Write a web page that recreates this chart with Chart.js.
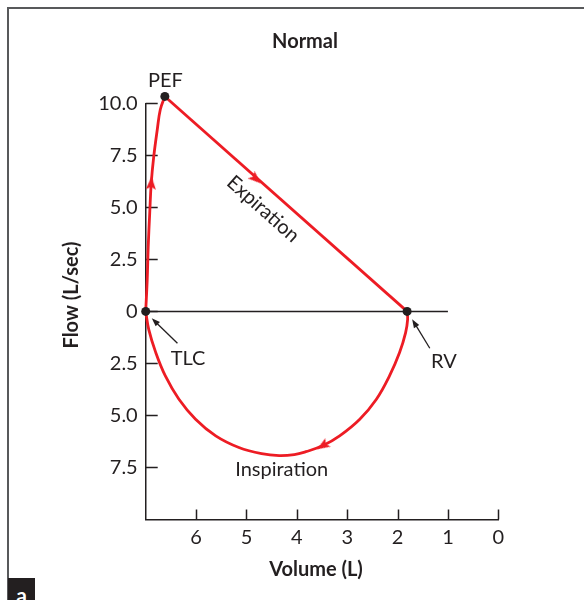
<!DOCTYPE html>
<html>
<head>
<meta charset="utf-8">
<script src="https://cdn.jsdelivr.net/npm/chart.js@4/dist/chart.umd.min.js"></script>
<style>
  html, body { margin: 0; padding: 0; background: #fff; }
  #wrap { position: relative; width: 584px; height: 600px; overflow: hidden; }
  #frame { position: absolute; left: 7px; top: 7px; width: 640px; height: 640px;
           border-top: 2px solid #58595b; border-left: 2px solid #58595b; }
  #tag { position: absolute; left: 8px; top: 578px; width: 27px; height: 30px;
         background: #231f20; color: #fff; font: bold 21px Lato, sans-serif;
         text-align: center; line-height: 34px; }
  #chartBox { position: absolute; left: 0; top: 0; width: 584px; height: 600px; }
</style>
</head>
<body>
<div id="wrap">
  <div id="frame"></div>
  <div id="chartBox"><canvas id="loop"></canvas></div>
  <div id="tag">a</div>
</div>
<script>
const RED = '#ed1c24';
const INK = '#231f20';
const FONT = 'Lato, "Open Sans", sans-serif';

// axis ticks
const volTicks = [6, 5, 4, 3, 2, 1, 0];
const flowTicks = [10, 7.5, 5, 2.5, 0, -2.5, -5, -7.5];

// rising limb TLC -> PEF
const riseVol = [7.0, 6.97, 6.95, 6.92, 6.89, 6.84, 6.77, 6.71, 6.62];
const riseFlow = [0, 1.52, 3.13, 4.73, 6.17, 7.45, 8.74, 9.7, 10.33];

// expiration PEF -> RV
const expVol = [6.62, 1.81];
const expFlow = [10.33, 0];

// inspiration RV -> TLC (drawn below zero)
const inspVol = [1.81, 1.80, 1.84, 1.96, 2.16, 2.42, 2.75, 3.15, 3.49, 3.82, 4.05, 4.35, 4.70, 5.15, 5.61, 6.01, 6.34, 6.61, 6.80, 6.94, 7.0];
const inspFlow = [0, -0.38, -1.02, -1.98, -3.10, -4.22, -5.18, -5.98, -6.46, -6.74, -6.88, -6.93, -6.84, -6.54, -5.98, -5.18, -4.22, -3.10, -1.98, -0.86, 0];

// zero line
const zeroVol = [7, 1];
const zeroFlow = [0, 0];

// marked points TLC, PEF, RV
const dotVol = [7.0, 6.62, 1.81];
const dotFlow = [0, 10.33, 0];

// direction arrows on the loop
const arrowVol = [6.89, 4.81, 3.49];
const arrowFlow = [6.17, 6.36, -6.46];
const arrowRot = [3, 132, 238];

// text notes
const noteText = ['PEF', 'TLC', 'RV', 'Inspiration'];
const noteVol = [6.61, 6.16, 1.08, 4.30];
const noteFlow = [11.08, -2.25, -2.42, -7.62];
const expLabel = 'Expiration';
const expLabelAt = [4.67, 4.92];

// pointer arrows to TLC and RV
const ptrFromVol = [6.37, 1.36];
const ptrFromFlow = [-1.53, -1.77];
const ptrToVol = [6.88, 1.71];
const ptrToFlow = [-0.33, -0.38];

const pts = (xs, ys) => xs.map((v, i) => ({ x: v, y: ys[i] }));

function arrowHead(w, h) {
    const c = document.createElement('canvas');
    c.width = w; c.height = h;
    const g = c.getContext('2d');
    g.fillStyle = RED;
    g.beginPath();
    g.moveTo(w / 2, 0);
    g.lineTo(w, h);
    g.lineTo(w / 2, h * 0.78);
    g.lineTo(0, h);
    g.closePath();
    g.fill();
    return c;
}
const headImg = arrowHead(10, 13);

const tickMarks = {
    id: 'tickMarks',
    beforeDatasetsDraw(chart) {
        const { ctx, scales: { x, y }, chartArea } = chart;
        ctx.save();
        ctx.strokeStyle = INK;
        ctx.lineWidth = 1.5;
        ctx.beginPath();
        y.ticks.forEach(t => {
            const py = Math.round(y.getPixelForValue(t.value)) + 0.5;
            ctx.moveTo(chartArea.left, py);
            ctx.lineTo(chartArea.left + 12, py);
        });
        x.ticks.forEach(t => {
            const px = Math.round(x.getPixelForValue(t.value)) + 0.5;
            ctx.moveTo(px, chartArea.bottom);
            ctx.lineTo(px, chartArea.bottom - 10);
        });
        ctx.stroke();
        ctx.restore();
    }
};

const notes = {
    id: 'notes',
    afterDatasetsDraw(chart) {
        const { ctx, scales: { x, y } } = chart;
        ctx.save();
        ctx.fillStyle = INK;

        // TLC, PEF, RV dots (can sit outside the chart area)
        dotVol.forEach((v, i) => {
            ctx.beginPath();
            ctx.arc(x.getPixelForValue(v), y.getPixelForValue(dotFlow[i]), 4.5, 0, Math.PI * 2);
            ctx.fill();
        });

        ctx.textAlign = 'center';
        ctx.textBaseline = 'middle';

        // title and axis titles
        ctx.font = 'bold 20px ' + FONT;
        ctx.fillText('Normal', 305, 42);
        ctx.fillText('Volume (L)', 316, 570);
        ctx.save();
        ctx.translate(72, 295);
        ctx.rotate(-Math.PI / 2);
        ctx.fillText('Flow (L/sec)', 0, 0);
        ctx.restore();

        ctx.font = '20px ' + FONT;
        noteText.forEach((t, i) => {
            ctx.fillText(t, x.getPixelForValue(noteVol[i]), y.getPixelForValue(noteFlow[i]));
        });

        // expiration label follows the line angle
        const ang = Math.atan2(
            y.getPixelForValue(expFlow[1]) - y.getPixelForValue(expFlow[0]),
            x.getPixelForValue(expVol[1]) - x.getPixelForValue(expVol[0]));
        ctx.save();
        ctx.translate(x.getPixelForValue(expLabelAt[0]), y.getPixelForValue(expLabelAt[1]));
        ctx.rotate(ang);
        ctx.fillText(expLabel, 0, 0);
        ctx.restore();

        // pointers
        ctx.strokeStyle = INK;
        ctx.lineWidth = 1.3;
        ptrFromVol.forEach((v, i) => {
            const x0 = x.getPixelForValue(v), y0 = y.getPixelForValue(ptrFromFlow[i]);
            const x1 = x.getPixelForValue(ptrToVol[i]), y1 = y.getPixelForValue(ptrToFlow[i]);
            const a = Math.atan2(y1 - y0, x1 - x0);
            ctx.beginPath();
            ctx.moveTo(x0, y0);
            ctx.lineTo(x1 - Math.cos(a) * 6, y1 - Math.sin(a) * 6);
            ctx.stroke();
            ctx.beginPath();
            ctx.moveTo(x1, y1);
            ctx.lineTo(x1 - Math.cos(a - 0.35) * 9, y1 - Math.sin(a - 0.35) * 9);
            ctx.lineTo(x1 - Math.cos(a + 0.35) * 9, y1 - Math.sin(a + 0.35) * 9);
            ctx.closePath();
            ctx.fill();
        });
        ctx.restore();
    }
};

const lineSet = (xs, ys, color, width, tension, order) => ({
    data: pts(xs, ys),
    borderColor: color,
    borderWidth: width,
    pointRadius: 0,
    tension: tension,
    fill: false,
    clip: false,
    order: order
});

new Chart(document.getElementById('loop'), {
    type: 'line',
    data: {
        datasets: [
            {
                data: pts(arrowVol, arrowFlow),
                showLine: false,
                pointStyle: headImg,
                pointRotation: arrowRot,
                clip: false,
                order: 1
            },
            lineSet(riseVol, riseFlow, RED, 2.8, 0.4, 2),
            lineSet(expVol, expFlow, RED, 2.8, 0, 2),
            lineSet(inspVol, inspFlow, RED, 2.8, 0.4, 2),
            lineSet(zeroVol, zeroFlow, INK, 1.5, 0, 5)
        ]
    },
    options: {
        responsive: true,
        maintainAspectRatio: false,
        animation: false,
        events: [],
        layout: { padding: { left: 0, top: 103.3, right: 85.7, bottom: 0 } },
        plugins: { legend: { display: false }, tooltip: { enabled: false } },
        scales: {
            x: {
                type: 'linear',
                reverse: true,
                min: 0,
                max: 7,
                afterBuildTicks: s => { s.ticks = volTicks.map(v => ({ value: v })); },
                afterFit: s => { s.height = 80.5; },
                grid: { display: false, drawTicks: false },
                border: { display: true, color: INK, width: 1.5 },
                ticks: {
                    padding: 6,
                    color: INK,
                    font: { family: FONT, size: 20 },
                    maxRotation: 0,
                    callback: v => String(v)
                }
            },
            y: {
                type: 'linear',
                min: -10,
                max: 10,
                afterBuildTicks: s => { s.ticks = flowTicks.map(v => ({ value: v })); },
                afterFit: s => { s.width = 145.7; },
                grid: { display: false, drawTicks: false },
                border: { display: true, color: INK, width: 1.5 },
                ticks: {
                    padding: 8,
                    color: INK,
                    font: { family: FONT, size: 20 },
                    callback: v => v === 0 ? '0' : Math.abs(v).toFixed(1)
                }
            }
        }
    },
    plugins: [tickMarks, notes]
});
</script>
</body>
</html>
